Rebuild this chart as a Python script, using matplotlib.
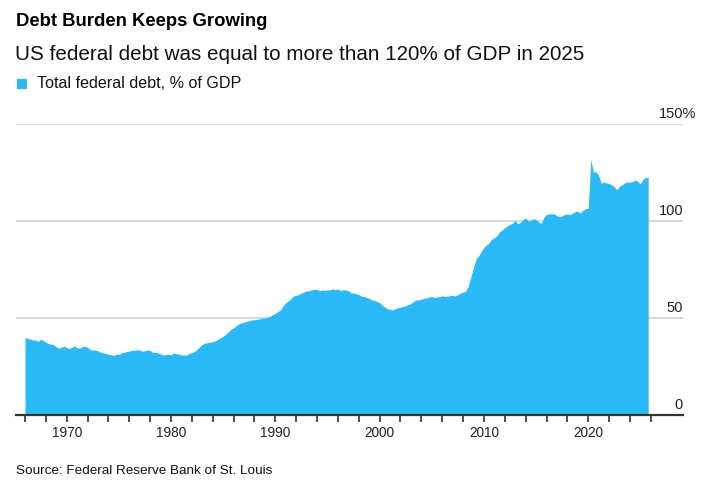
import matplotlib
matplotlib.use("Agg")
import matplotlib.pyplot as plt
from matplotlib.patches import Rectangle
import matplotlib.transforms as mtransforms

plt.rcParams['font.family'] = ['Liberation Sans', 'DejaVu Sans']

# ---- data: US total federal debt, % of GDP, quarterly from 1966 Q1 ----
start_year = 1966
debt_pct = [
    # 1966-1969
    40.0, 39.4, 39.2, 38.6,  38.7, 37.9, 39.0, 38.4,  37.5, 36.7, 36.6, 36.2,  35.0, 34.4, 35.0, 35.5,
    # 1970-1979
    34.7, 34.3, 34.9, 35.6,  34.6, 34.4, 35.2, 35.4,  34.8, 33.7, 33.4, 33.5,  33.0, 32.3, 32.0, 31.8,
    31.3, 31.0, 30.8, 31.3,  31.3, 32.0, 32.3, 32.7,  33.0, 33.2, 33.4, 33.6,  33.5, 32.9, 33.1, 33.5,
    33.2, 32.2, 32.3, 32.0,  31.5, 31.0, 31.1, 31.4,
    # 1980-1989
    31.0, 32.0, 31.6, 31.4,  30.9, 31.0, 30.8, 31.8,  32.2, 32.7, 33.8, 35.2,  36.4, 37.0, 37.3, 37.5,
    37.8, 38.3, 39.0, 39.8,  40.6, 41.6, 42.9, 44.2,  45.0, 46.0, 47.0, 47.5,  47.9, 48.2, 48.6, 49.0,
    49.1, 49.3, 49.6, 50.0,  50.0, 50.3, 50.9, 51.8,
    # 1990-1999
    52.4, 53.3, 54.2, 56.3,  57.8, 58.8, 60.0, 61.4,  61.6, 62.1, 62.9, 63.4,  63.9, 64.1, 64.5, 64.7,
    64.7, 64.1, 64.4, 64.3,  64.4, 64.6, 65.0, 64.6,  64.9, 64.2, 64.5, 64.4,  64.1, 62.9, 62.9, 62.5,
    62.1, 61.2, 61.1, 60.5,  60.1, 59.3, 59.1, 58.4,
    # 2000-2009
    57.9, 56.6, 55.6, 54.7,  54.5, 54.1, 54.8, 55.3,  55.6, 55.9, 56.3, 56.9,  57.4, 58.5, 59.3, 59.3,
    59.7, 60.1, 60.3, 60.8,  61.0, 60.6, 60.9, 61.0,  61.4, 61.1, 61.3, 61.5,  61.8, 61.3, 62.0, 62.9,
    63.3, 63.8, 66.3, 71.2,  76.0, 80.6, 82.0, 84.3,
    # 2010-2019
    86.4, 87.6, 88.8, 90.6,  91.4, 92.4, 94.5, 95.3,  96.6, 97.4, 98.2, 98.9,  100.2, 98.6, 99.3, 100.6,
    101.6, 100.0, 100.4, 101.2,  100.7, 99.5, 98.8, 101.8,  103.4, 103.6, 103.8, 103.5,  102.7, 102.4, 102.6, 103.4,
    103.5, 103.3, 104.0, 104.8,  105.0, 104.0, 105.6, 106.3,
    # 2020-2025
    106.6, 131.8, 125.0, 125.4,  123.4, 119.4, 120.2, 119.6,  119.4, 118.6, 117.6, 116.0,  118.0, 118.6, 119.7, 120.1,
    120.0, 120.3, 121.2, 120.4,  119.1, 121.5, 122.4, 122.5,
]
years = [start_year + i / 4 for i in range(len(debt_pct))]

y_ticks = [0, 50, 100, 150]
y_tick_labels = ["0", "50", "100", "150%"]
x_label_years = [1970, 1980, 1990, 2000, 2010, 2020]
minor_tick_years = list(range(1966, 2027, 2))

title = "Debt Burden Keeps Growing"
subtitle = "US federal debt was equal to more than 120% of GDP in 2025"
legend_label = "Total federal debt, % of GDP"
source = "Source: Federal Reserve Bank of St. Louis"

BLUE = "#29B9F6"
W, H = 715, 498

fig = plt.figure(figsize=(W / 100, H / 100), dpi=100)
fig.patch.set_facecolor("white")

def fx(px):
    return px / W

def fy(py):
    return 1 - py / H

# axes: x pixel 16..683, y pixel 124..415
ax = fig.add_axes([fx(16), fy(415), fx(683) - fx(16), fy(124) - fy(415)])
px_per_year = 10.43
x_left = 1966 - (25 - 16) / px_per_year
x_right = 1966 + (683 - 25) / px_per_year
ax.set_xlim(x_left, x_right)
ax.set_ylim(0, 150)

for v in y_ticks[1:]:
    ax.axhline(v, color="#d9d9d9", lw=1.5, zorder=1)

ax.fill_between(years, 0, debt_pct, color=BLUE, lw=0, zorder=2)

for s in ["top", "left", "right"]:
    ax.spines[s].set_visible(False)
ax.spines["bottom"].set_color("#333333")
ax.spines["bottom"].set_linewidth(1.6)
ax.spines["bottom"].set_zorder(3)

ax.set_yticks([])
ax.set_xticks(minor_tick_years)
ax.set_xticklabels(["" for _ in minor_tick_years])
ax.tick_params(axis="x", direction="out", length=5, width=1.2, color="#333333")

# x labels at pixel y 433
trans_lbl = mtransforms.blended_transform_factory(ax.transData, fig.transFigure)
for yr in x_label_years:
    ax.text(yr, fy(433), str(yr), transform=trans_lbl, ha="center", va="center",
            fontsize=9.8, color="#222222")

# y labels: right aligned at pixel x 683 (the % sign hangs past), just above gridline
trans_y = mtransforms.blended_transform_factory(fig.transFigure, ax.transData)
offset = mtransforms.ScaledTranslation(0, 3 / 100, fig.dpi_scale_trans)
for v, lab in zip(y_ticks, y_tick_labels):
    right_px = 696 if lab.endswith("%") else 683
    ax.text(fx(right_px), v, lab, transform=trans_y + offset, ha="right", va="bottom",
            fontsize=10.5, color="#222222")

# titles
fig.text(fx(16), fy(22), title, fontsize=13.3, fontweight="bold", ha="left", va="center", color="#000000")
fig.text(fx(15), fy(55), subtitle, fontsize=14.9, ha="left", va="center", color="#111111")
fig.add_artist(Rectangle((fx(17), fy(89)), fx(10), 10 / H, transform=fig.transFigure,
                         facecolor=BLUE, edgecolor="none"))
fig.text(fx(37), fy(84), legend_label, fontsize=11.6, ha="left", va="center", color="#111111")
fig.text(fx(16), fy(471), source, fontsize=9.7, ha="left", va="center", color="#111111")

fig.savefig("out.png", dpi=100, facecolor="white")
